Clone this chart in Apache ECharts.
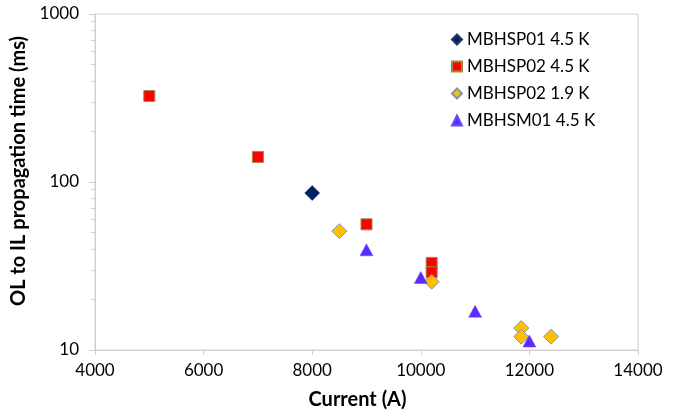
<!DOCTYPE html>
<html>
<head>
<meta charset="utf-8">
<script src="https://cdn.jsdelivr.net/npm/echarts@6/dist/echarts.min.js"></script>
<style>
  html, body { margin: 0; padding: 0; background: #fff; }
  #main { width: 675px; height: 414px; }
</style>
</head>
<body>
<div id="main"></div>
<script>
// current (A), propagation time (ms)
const sp01_45 = [[8000, 86]];
const sp02_45 = [[5000, 325], [7000, 141], [9000, 56], [10200, 33], [10200, 29]];
const sp02_19 = [[8500, 51], [10200, 25.5], [11850, 13.5], [11850, 12], [12400, 12]];
const sm01_45 = [[9000, 39.5], [10000, 27], [11000, 17], [12000, 11.3]];

const seriesNames = ['MBHSP01 4.5 K', 'MBHSP02 4.5 K', 'MBHSP02 1.9 K', 'MBHSM01 4.5 K'];
const minorTicks = [20, 30, 40, 50, 60, 70, 80, 90, 200, 300, 400, 500, 600, 700, 800, 900];

const font = 'Lato, "Open Sans", sans-serif';
const axisGray = '#d0d0d0';

let myChart = echarts.init(document.getElementById('main'));
let option = {
  animation: false,
  textStyle: { fontFamily: font },
  grid: {
    left: 95, right: 37, top: 14, bottom: 64,
    outerBoundsMode: 'none',
    show: true, borderColor: axisGray, borderWidth: 1
  },
  legend: {
    orient: 'vertical',
    left: 446, top: 26,
    itemWidth: 10, itemHeight: 10,
    itemGap: 10,
    textStyle: { fontFamily: font, fontSize: 17, color: '#000' },
    data: seriesNames
  },
  xAxis: {
    type: 'value',
    min: 4000, max: 14000, interval: 2000,
    name: 'Current (A)',
    nameLocation: 'middle',
    nameGap: 40,
    nameTextStyle: { fontFamily: font, fontSize: 20, fontWeight: 'bold', color: '#000', padding: [0, 18, 0, 0] },
    axisLine: { lineStyle: { color: axisGray } },
    axisTick: { show: true, length: 5, lineStyle: { color: axisGray } },
    axisLabel: { fontSize: 17, color: '#000', margin: 12, formatter: v => String(v) },
    splitLine: { show: false }
  },
  yAxis: [
    {
      type: 'log', logBase: 10,
      min: 10, max: 1000,
      name: 'OL to IL propagation time (ms)',
      nameLocation: 'middle',
      nameGap: 54,
      nameTextStyle: { fontFamily: font, fontSize: 20, fontWeight: 'bold', color: '#000', padding: [0, 0, 0, 22] },
      axisLine: { show: true, lineStyle: { color: axisGray } },
      axisTick: { show: true, length: 6, lineStyle: { color: axisGray } },
      axisLabel: { fontSize: 17, color: '#000', margin: 16, formatter: v => String(v) },
      splitLine: { show: false },
      minorTick: { show: false }
    },
    {
      // minor ticks at 20..90, 200..900 placed on a log10 helper axis
      type: 'value',
      min: 1, max: 3,
      position: 'left',
      axisLine: { show: false },
      axisLabel: { show: false },
      axisTick: { show: true, length: 4, customValues: minorTicks.map(v => Math.log10(v)), lineStyle: { color: axisGray } },
      splitLine: { show: false }
    }
  ],
  series: [
    {
      name: seriesNames[0], type: 'scatter', data: sp01_45,
      symbol: 'diamond', symbolSize: 15,
      itemStyle: { color: '#002060', borderColor: '#1f3864', borderWidth: 0.5, opacity: 1 }
    },
    {
      name: seriesNames[1], type: 'scatter', data: sp02_45,
      symbol: 'rect', symbolSize: 11,
      itemStyle: { color: '#ff0000', borderColor: '#9a8a4a', borderWidth: 1, opacity: 1 }
    },
    {
      name: seriesNames[2], type: 'scatter', data: sp02_19,
      symbol: 'diamond', symbolSize: 15,
      itemStyle: { color: '#ffc000', borderColor: '#7f96b0', borderWidth: 1, opacity: 1 }
    },
    {
      name: seriesNames[3], type: 'scatter', data: sm01_45,
      symbol: 'triangle', symbolSize: [13, 12],
      itemStyle: { color: '#5b2cff', borderColor: '#6a4bff', borderWidth: 0.5, opacity: 1 }
    }
  ]
};
myChart.setOption(option);
</script>
</body>
</html>
